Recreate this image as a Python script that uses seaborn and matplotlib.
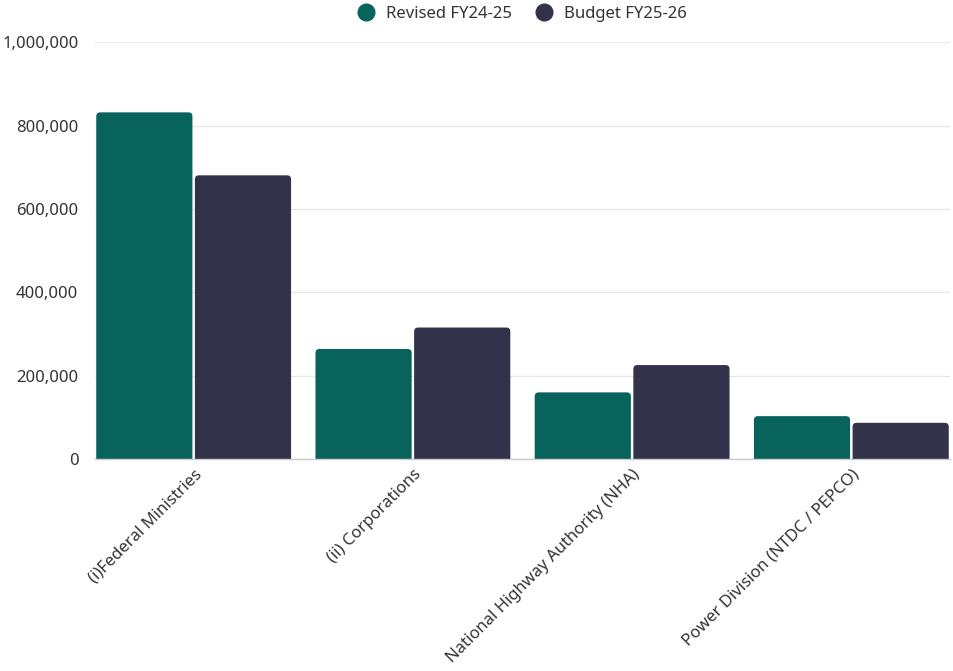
import matplotlib
matplotlib.use("Agg")
import matplotlib.pyplot as plt
from matplotlib.patches import FancyBboxPatch
from matplotlib.lines import Line2D
from matplotlib.ticker import FuncFormatter
import seaborn as sns
import pandas as pd

categories = [
    "(i)Federal Ministries",
    "(ii) Corporations",
    "National Highway Authority (NHA)",
    "Power Division (NTDC / PEPCO)",
]
series_names = ["Revised FY24-25", "Budget FY25-26"]
revised_fy24_25 = [832000, 264500, 160500, 103500]
budget_fy25_26 = [681000, 316000, 226000, 87500]
y_ticks = [0, 200000, 400000, 600000, 800000, 1000000]

colors = ["#08635C", "#32334A"]
text_color = "#333333"

df = pd.DataFrame({
    "category": categories * 2,
    "series": [series_names[0]] * 4 + [series_names[1]] * 4,
    "value": revised_fy24_25 + budget_fy25_26,
})

sns.set_theme(style="white")
plt.rcParams["font.family"] = ["Noto Sans", "DejaVu Sans"]

fig = plt.figure(figsize=(9.54, 6.71), dpi=100)
ax = fig.add_axes([95 / 954, 1 - 459.3 / 671, (950 - 95) / 954, (459.3 - 42.3) / 671])

sns.barplot(data=df, x="category", y="value", hue="series", palette=colors,
            width=0.9, gap=0.025, ax=ax, legend=False, saturation=1)

ax.set_xlim(-0.45, 3.45)
ax.set_ylim(0, 1000000)
ax.set_yticks(y_ticks)
ax.yaxis.set_major_formatter(FuncFormatter(lambda v, p: f"{int(v):,}"))
ax.grid(axis="y", color="#e8e8e8", linewidth=1)
ax.set_axisbelow(True)
for s in ["top", "right", "left"]:
    ax.spines[s].set_visible(False)
ax.spines["bottom"].set_color("#cccccc")
ax.spines["bottom"].set_linewidth(1)
ax.set_xlabel("")
ax.set_ylabel("")
ax.tick_params(axis="y", length=0, pad=12, labelsize=12, labelcolor=text_color)
ax.tick_params(axis="x", length=0, pad=5, labelsize=12, labelcolor=text_color)
plt.setp(ax.get_xticklabels(), rotation=45, ha="right", rotation_mode="anchor")

# Swap the square bars for bars with rounded top corners
fig.canvas.draw()
bbox = ax.get_window_extent()
x_per_px = (ax.get_xlim()[1] - ax.get_xlim()[0]) / bbox.width
y_per_px = (ax.get_ylim()[1] - ax.get_ylim()[0]) / bbox.height
radius_px = 4
for patch in list(ax.patches):
    x0, w = patch.get_x(), patch.get_width()
    h = patch.get_height()
    fc = patch.get_facecolor()
    patch.remove()
    r = radius_px * x_per_px
    ext = radius_px * y_per_px
    rounded = FancyBboxPatch(
        (x0, -ext), w, h + ext,
        boxstyle=f"round,pad=0,rounding_size={r}",
        mutation_aspect=y_per_px / x_per_px,
        facecolor=fc, edgecolor="none", zorder=2,
    )
    ax.add_patch(rounded)
    rounded.set_clip_path(ax.patch)

handles = [Line2D([0], [0], marker="o", linestyle="none", markersize=12,
                  markerfacecolor=c, markeredgecolor=c) for c in colors]
fig.legend(handles, series_names, loc="center", bbox_to_anchor=(0.543, 0.979),
           ncol=2, frameon=False, fontsize=12, handletextpad=0.2,
           columnspacing=0.9, labelcolor=text_color)

fig.savefig("out.png", dpi=100)
